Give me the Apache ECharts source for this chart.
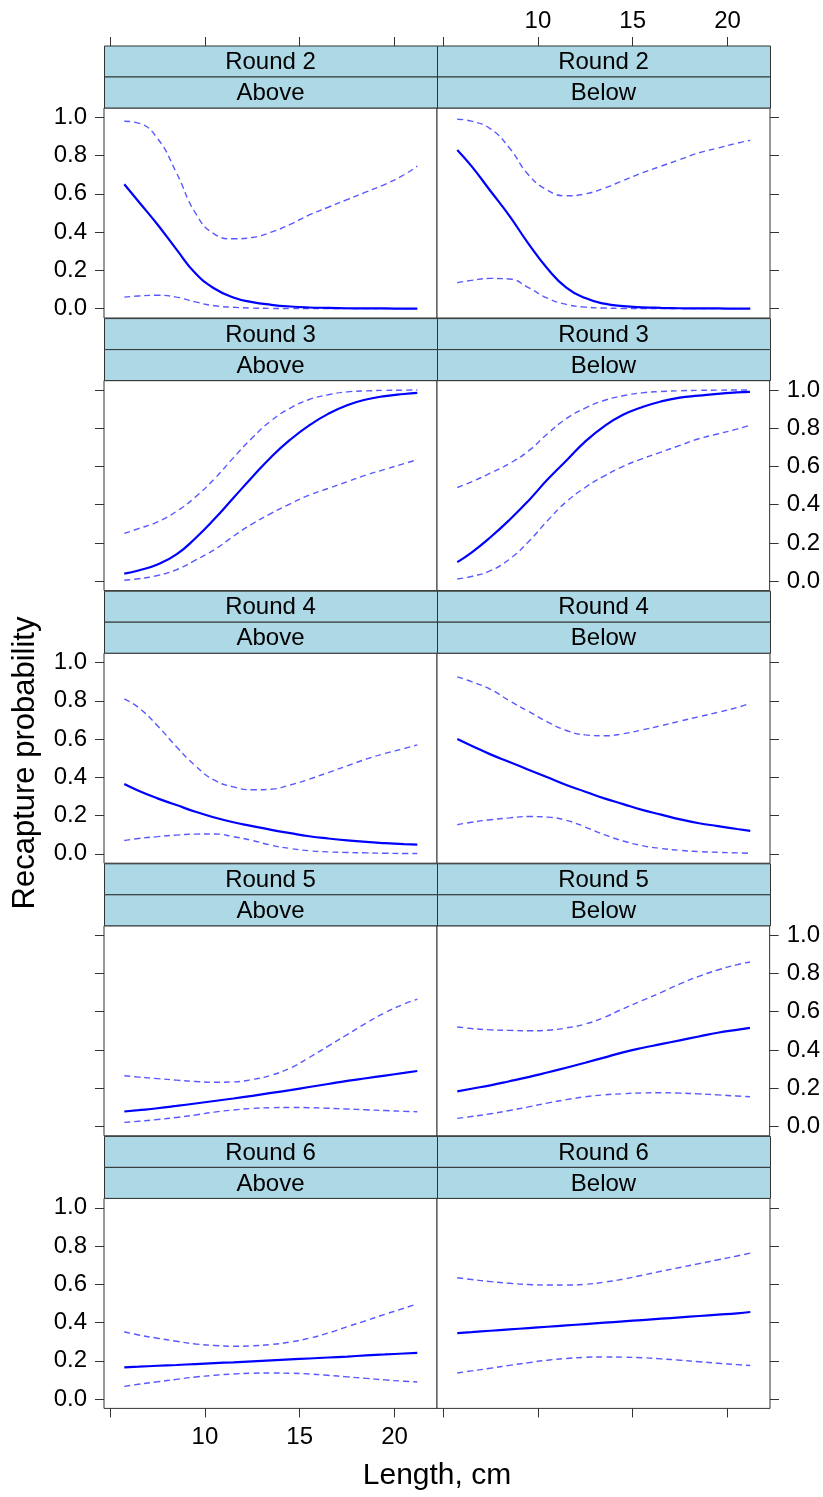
<!DOCTYPE html>
<html>
<head>
<meta charset="utf-8">
<script src="https://cdn.jsdelivr.net/npm/echarts@6/dist/echarts.min.js"></script>
<style>
  html, body { margin: 0; padding: 0; background: #fff; }
  #chart { width: 823px; height: 1497px; }
</style>
</head>
<body>
<div id="chart"></div>
<script>
// Fish length grid (cm) shared by every panel
const lengthCm = [5.75, 6.5, 7.5, 8.5, 9.5, 10.5, 11.5, 12.5, 13.5, 14.5, 15.5, 16.5, 17.5, 18.5, 19.5, 20.5, 21.2];

// Round 2
const r2AboveFit   = [0.65, 0.56, 0.44, 0.31, 0.185, 0.105, 0.058, 0.034, 0.02, 0.011, 0.006, 0.004, 0.002, 0.001, 0.001, 0.0, 0.0];
const r2AboveUpper = [0.98, 0.97, 0.89, 0.71, 0.50, 0.39, 0.365, 0.372, 0.40, 0.44, 0.49, 0.53, 0.57, 0.61, 0.65, 0.70, 0.745];
const r2AboveLower = [0.06, 0.066, 0.07, 0.06, 0.035, 0.015, 0.007, 0.003, 0.001, 0.0, 0.0, 0.0, 0.0, 0.0, 0.0, 0.0, 0.0];
const r2BelowFit   = [0.83, 0.745, 0.615, 0.485, 0.34, 0.21, 0.11, 0.055, 0.026, 0.013, 0.007, 0.004, 0.002, 0.001, 0.001, 0.0, 0.0];
const r2BelowUpper = [0.99, 0.98, 0.94, 0.84, 0.70, 0.62, 0.59, 0.60, 0.63, 0.67, 0.71, 0.745, 0.78, 0.815, 0.84, 0.865, 0.88];
const r2BelowLower = [0.135, 0.148, 0.158, 0.155, 0.11, 0.055, 0.022, 0.008, 0.003, 0.001, 0.0, 0.0, 0.0, 0.0, 0.0, 0.0, 0.0];

// Round 3
const r3AboveFit   = [0.04, 0.056, 0.088, 0.14, 0.225, 0.325, 0.435, 0.545, 0.65, 0.74, 0.815, 0.875, 0.92, 0.95, 0.968, 0.979, 0.985];
const r3AboveUpper = [0.25, 0.275, 0.31, 0.365, 0.44, 0.535, 0.645, 0.75, 0.84, 0.905, 0.95, 0.975, 0.99, 0.995, 0.998, 0.999, 1.0];
const r3AboveLower = [0.005, 0.013, 0.03, 0.06, 0.11, 0.165, 0.235, 0.30, 0.355, 0.405, 0.45, 0.485, 0.52, 0.555, 0.585, 0.615, 0.635];
const r3BelowFit   = [0.10, 0.15, 0.23, 0.32, 0.42, 0.53, 0.63, 0.73, 0.81, 0.87, 0.91, 0.94, 0.96, 0.97, 0.98, 0.987, 0.99];
const r3BelowUpper = [0.49, 0.52, 0.565, 0.615, 0.68, 0.77, 0.85, 0.905, 0.945, 0.97, 0.985, 0.992, 0.996, 0.998, 0.999, 1.0, 1.0];
const r3BelowLower = [0.012, 0.025, 0.055, 0.115, 0.205, 0.315, 0.415, 0.49, 0.55, 0.60, 0.64, 0.675, 0.71, 0.745, 0.77, 0.795, 0.815];

// Round 4
const r4AboveFit   = [0.365, 0.33, 0.29, 0.255, 0.22, 0.19, 0.165, 0.145, 0.125, 0.108, 0.092, 0.08, 0.07, 0.062, 0.056, 0.051, 0.048];
const r4AboveUpper = [0.81, 0.765, 0.67, 0.56, 0.46, 0.385, 0.35, 0.335, 0.338, 0.36, 0.39, 0.425, 0.46, 0.495, 0.525, 0.55, 0.57];
const r4AboveLower = [0.07, 0.08, 0.09, 0.098, 0.103, 0.104, 0.09, 0.07, 0.045, 0.028, 0.016, 0.01, 0.007, 0.005, 0.003, 0.002, 0.002];
const r4BelowFit   = [0.60, 0.565, 0.52, 0.48, 0.44, 0.40, 0.36, 0.325, 0.29, 0.26, 0.23, 0.205, 0.18, 0.16, 0.145, 0.13, 0.12];
const r4BelowUpper = [0.925, 0.90, 0.86, 0.80, 0.745, 0.69, 0.645, 0.622, 0.617, 0.628, 0.648, 0.67, 0.694, 0.717, 0.74, 0.765, 0.787];
const r4BelowLower = [0.152, 0.165, 0.178, 0.188, 0.195, 0.192, 0.175, 0.14, 0.10, 0.067, 0.043, 0.028, 0.018, 0.012, 0.008, 0.005, 0.003];

// Round 5
const r5AboveFit   = [0.078, 0.085, 0.095, 0.107, 0.12, 0.133, 0.146, 0.16, 0.175, 0.19, 0.206, 0.222, 0.238, 0.252, 0.266, 0.28, 0.29];
const r5AboveUpper = [0.265, 0.258, 0.25, 0.242, 0.235, 0.231, 0.233, 0.245, 0.268, 0.305, 0.36, 0.42, 0.48, 0.54, 0.595, 0.64, 0.665];
const r5AboveLower = [0.021, 0.027, 0.036, 0.047, 0.06, 0.075, 0.086, 0.094, 0.098, 0.099, 0.098, 0.095, 0.091, 0.087, 0.083, 0.079, 0.077];
const r5BelowFit   = [0.183, 0.197, 0.215, 0.236, 0.258, 0.282, 0.307, 0.333, 0.36, 0.387, 0.41, 0.43, 0.45, 0.47, 0.49, 0.505, 0.515];
const r5BelowUpper = [0.52, 0.512, 0.505, 0.502, 0.50, 0.503, 0.515, 0.535, 0.57, 0.615, 0.658, 0.70, 0.745, 0.785, 0.818, 0.845, 0.86];
const r5BelowLower = [0.042, 0.052, 0.066, 0.083, 0.102, 0.122, 0.14, 0.155, 0.165, 0.171, 0.175, 0.176, 0.174, 0.17, 0.165, 0.159, 0.155];

// Round 6
const r6AboveFit   = [0.166, 0.169, 0.174, 0.178, 0.183, 0.188, 0.192, 0.197, 0.202, 0.207, 0.212, 0.217, 0.222, 0.228, 0.233, 0.238, 0.241];
const r6AboveUpper = [0.352, 0.335, 0.318, 0.302, 0.288, 0.28, 0.276, 0.278, 0.285, 0.298, 0.318, 0.345, 0.378, 0.41, 0.443, 0.475, 0.497];
const r6AboveLower = [0.066, 0.077, 0.09, 0.103, 0.115, 0.124, 0.131, 0.135, 0.136, 0.135, 0.131, 0.124, 0.116, 0.108, 0.10, 0.093, 0.089];
const r6BelowFit   = [0.345, 0.35, 0.357, 0.364, 0.371, 0.378, 0.385, 0.392, 0.399, 0.406, 0.413, 0.42, 0.427, 0.434, 0.441, 0.448, 0.455];
const r6BelowUpper = [0.634, 0.625, 0.614, 0.605, 0.599, 0.596, 0.596, 0.60, 0.611, 0.627, 0.647, 0.668, 0.688, 0.708, 0.728, 0.748, 0.763];
const r6BelowLower = [0.136, 0.147, 0.161, 0.176, 0.19, 0.203, 0.212, 0.218, 0.22, 0.219, 0.216, 0.21, 0.203, 0.195, 0.187, 0.18, 0.175];

// Strip labels and tick marks
const roundLabels = ['Round 2', 'Round 3', 'Round 4', 'Round 5', 'Round 6'];
const sideLabels = ['Above', 'Below'];
const lengthTicks = [5, 10, 15, 20];
const lengthTickLabels = [10, 15, 20];
const probTicks = [0, 0.2, 0.4, 0.6, 0.8, 1.0];

// Panels in row order: each row is [Above, Below], each panel is [fit, lower, upper]
const panels = [
  [[r2AboveFit, r2AboveLower, r2AboveUpper], [r2BelowFit, r2BelowLower, r2BelowUpper]],
  [[r3AboveFit, r3AboveLower, r3AboveUpper], [r3BelowFit, r3BelowLower, r3BelowUpper]],
  [[r4AboveFit, r4AboveLower, r4AboveUpper], [r4BelowFit, r4BelowLower, r4BelowUpper]],
  [[r5AboveFit, r5AboveLower, r5AboveUpper], [r5BelowFit, r5BelowLower, r5BelowUpper]],
  [[r6AboveFit, r6AboveLower, r6AboveUpper], [r6BelowFit, r6BelowLower, r6BelowUpper]]
];

const FONT = '"Liberation Sans", Arial, Helvetica, sans-serif';
const X_MIN = 4.68, X_MAX = 22.24;
const Y_MIN = -0.049, Y_MAX = 1.049;
const colLeft = [104, 437];
const panelW = 333;
const firstTop = 108;
const rowPitch = 272.6;
const panelH = 210;
const stripH = 31;
const frame = '#333333';
const lastRow = panels.length - 1;
const pxPerCm = panelW / (X_MAX - X_MIN);

const grids = [], xAxes = [], yAxes = [], series = [], graphics = [];

panels.forEach((row, r) => {
  const top = firstTop + rowPitch * r;
  row.forEach((panel, c) => {
    const idx = grids.length;
    grids.push({
      left: colLeft[c], top: top, width: panelW, height: panelH,
      show: true, borderColor: frame, borderWidth: 1, backgroundColor: '#fff'
    });
    xAxes.push({
      gridIndex: idx, type: 'value', min: X_MIN, max: X_MAX, position: 'bottom',
      axisLine: { show: false, onZero: false },
      splitLine: { show: false },
      axisTick: { show: r === lastRow, length: 9, customValues: lengthTicks, lineStyle: { color: frame, width: 1 } },
      axisLabel: { show: r === lastRow && c === 0, customValues: lengthTickLabels, margin: 17, fontSize: 24, color: '#000', fontFamily: FONT }
    });
    const showYLabels = c === 0 ? r % 2 === 0 : r % 2 === 1;
    yAxes.push({
      gridIndex: idx, type: 'value', min: Y_MIN, max: Y_MAX,
      position: c === 0 ? 'left' : 'right',
      axisLine: { show: false, onZero: false },
      splitLine: { show: false },
      axisTick: { show: true, length: 9, customValues: probTicks, lineStyle: { color: frame, width: 1 } },
      axisLabel: {
        show: showYLabels, customValues: probTicks, margin: 17,
        formatter: v => Number(v).toFixed(1),
        fontSize: 24, color: '#000', fontFamily: FONT
      }
    });
    const [fit, lower, upper] = panel;
    const toPts = ys => lengthCm.map((x, i) => [x, ys[i]]);
    [[lower, 'dashed'], [upper, 'dashed'], [fit, 'solid']].forEach(([ys, kind]) => {
      series.push({
        type: 'line', xAxisIndex: idx, yAxisIndex: idx,
        data: toPts(ys), showSymbol: false, smooth: 0.5, silent: true,
        animation: false, clip: true,
        lineStyle: kind === 'solid'
          ? { color: '#0000ff', width: 2.2, type: 'solid' }
          : { color: '#2f2fff', width: 1.4, type: [6, 4], opacity: 0.8 }
      });
    });

    // Two-level strips above each panel
    const sx = colLeft[c] + 0.5;
    [roundLabels[r], sideLabels[c]].forEach((label, k) => {
      const sy = top - stripH * (2 - k);
      graphics.push({
        type: 'rect', silent: true,
        shape: { x: sx, y: sy, width: panelW, height: stripH },
        style: { fill: '#ADD8E6', stroke: frame, lineWidth: 1 }
      });
      graphics.push({
        type: 'text', silent: true,
        x: colLeft[c] + panelW / 2, y: sy + stripH / 2 + 1,
        style: { text: label, font: '24px ' + FONT, fill: '#000', align: 'center', verticalAlign: 'middle' }
      });
    });
  });
});

// Top length axes above the first row of strips: a thin frameless grid spanning
// exactly 5..20 cm of each column, so the regular interval ticks land on 5, 10, 15, 20
[0, 1].forEach(c => {
  const idx = grids.length;
  const tickMin = lengthTicks[0], tickMax = lengthTicks[lengthTicks.length - 1];
  grids.push({
    left: colLeft[c] + (tickMin - X_MIN) * pxPerCm,
    width: (tickMax - tickMin) * pxPerCm,
    top: firstTop - stripH * 2, height: 10, show: false
  });
  xAxes.push({
    gridIndex: idx, type: 'value', min: tickMin, max: tickMax, interval: 5, position: 'top',
    axisLine: { show: false, onZero: false },
    splitLine: { show: false },
    axisTick: { show: true, length: 9, lineStyle: { color: frame, width: 1 } },
    axisLabel: {
      show: c === 1, margin: 13, fontSize: 24, color: '#000', fontFamily: FONT,
      showMinLabel: true, showMaxLabel: true,
      formatter: v => (lengthTickLabels.indexOf(v) >= 0 ? String(v) : '')
    }
  });
  yAxes.push({ gridIndex: idx, type: 'value', min: 0, max: 1, show: false });
});

// Axis titles
graphics.push({
  type: 'text', silent: true, x: 25, y: 763, rotation: Math.PI / 2,
  style: { text: 'Recapture probability', font: '31px ' + FONT, fill: '#000', align: 'center', verticalAlign: 'middle' }
});
graphics.push({
  type: 'text', silent: true, x: 437, y: 1476,
  style: { text: 'Length, cm', font: '30px ' + FONT, fill: '#000', align: 'center', verticalAlign: 'middle' }
});

const chart = echarts.init(document.getElementById('chart'), null, { renderer: 'canvas' });
chart.setOption({
  animation: false,
  backgroundColor: '#fff',
  grid: grids,
  xAxis: xAxes,
  yAxis: yAxes,
  series: series,
  graphic: graphics
});
</script>
</body>
</html>
